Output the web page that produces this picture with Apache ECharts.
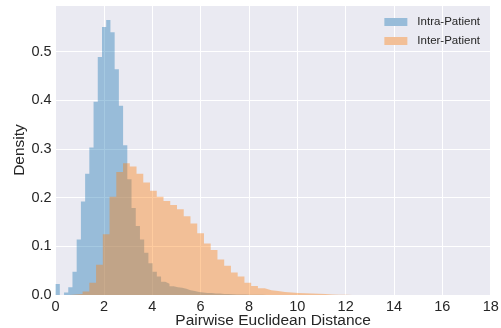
<!DOCTYPE html>
<html>
<head>
<meta charset="utf-8">
<script src="https://cdn.jsdelivr.net/npm/echarts@6/dist/echarts.min.js"></script>
<style>
  html, body { margin: 0; padding: 0; background: #fff; }
  #chart { width: 501px; height: 328px; }
</style>
</head>
<body>
<div id="chart"></div>
<script>
// histogram bins, both start at 0, 50 bins each
const intraStart = 0;
const intraBinWidth = 0.1745;
const intraDensity = [
  0.0226, 0, 0.005, 0.016, 0.048, 0.114, 0.192, 0.249, 0.303, 0.397,
  0.489, 0.551, 0.565, 0.540, 0.464, 0.389, 0.308, 0.238, 0.179, 0.142,
  0.114, 0.087, 0.065, 0.048, 0.038, 0.027, 0.023, 0.018, 0.016, 0.015,
  0.013, 0.010, 0.008, 0.006, 0.005, 0.004, 0.004, 0.003, 0.003, 0.002,
  0.002, 0.0015, 0.001, 0.001, 0.0008, 0.0006, 0.0005, 0.0004, 0.0003, 0.0002
];

const interStart = 0;
const interBinWidth = 0.279;
const interDensity = [
  0, 0, 0.0008, 0.002, 0.007, 0.025, 0.062, 0.125, 0.202, 0.253,
  0.271, 0.264, 0.249, 0.231, 0.214, 0.202, 0.193, 0.185, 0.176, 0.162,
  0.147, 0.127, 0.106, 0.0925, 0.073, 0.060, 0.046, 0.038, 0.025, 0.0185,
  0.014, 0.010, 0.008, 0.006, 0.005, 0.004, 0.0035, 0.003, 0.0025, 0.002,
  0.001, 0.0006, 0.0003, 0.0002, 0.0002, 0.0001, 0.0001, 0.0001, 0.0001, 0.0001
];

const seriesNames = ['Intra-Patient', 'Inter-Patient'];
const xTicks = [0, 2, 4, 6, 8, 10, 12, 14, 16, 18];
const yTicks = [0.0, 0.1, 0.2, 0.3, 0.4, 0.5];

// step outline for a histogram: two points per bin
function stepPoints(start, width, dens) {
  const pts = [];
  dens.forEach((h, i) => {
    pts.push([start + i * width, h]);
    pts.push([start + (i + 1) * width, h]);
  });
  return pts;
}

const FONT = 'Liberation Sans';
const TXT = '#262626';

const chart = echarts.init(document.getElementById('chart'), null, { renderer: 'canvas' });

chart.setOption({
  animation: false,
  backgroundColor: '#ffffff',
  textStyle: { fontFamily: FONT, color: TXT },
  grid: {
    left: 55.6, right: 10.3, top: 5, bottom: 33,
    containLabel: false,
    outerBoundsMode: 'none',
    show: true, backgroundColor: '#EAEAF2', borderWidth: 0
  },
  legend: {
    orient: 'vertical',
    right: 16,
    top: 11,
    icon: 'rect',
    itemWidth: 23,
    itemHeight: 8,
    itemGap: 7,
    textStyle: { fontFamily: FONT, fontSize: 11.5, color: TXT, padding: [0, 0, 0, 5] },
    data: [
      { name: seriesNames[0], itemStyle: { color: '#98BCD9' } },
      { name: seriesNames[1], itemStyle: { color: '#F2BF97' } }
    ]
  },
  xAxis: {
    type: 'value',
    min: xTicks[0],
    max: xTicks[xTicks.length - 1],
    interval: 2,
    name: 'Pairwise Euclidean Distance',
    nameLocation: 'middle',
    nameGap: 18,
    nameMoveOverlap: false,
    nameTextStyle: { fontFamily: FONT, fontSize: 15.5, color: TXT },
    axisLine: { show: false },
    axisTick: { show: false },
    axisLabel: { fontFamily: FONT, fontSize: 14.5, color: TXT, margin: 4 },
    splitLine: { show: true, lineStyle: { color: '#ffffff', width: 1 } }
  },
  yAxis: {
    type: 'value',
    min: 0,
    max: 0.596,
    interval: 0.1,
    name: 'Density',
    nameLocation: 'middle',
    nameGap: 28,
    nameMoveOverlap: false,
    nameTextStyle: { fontFamily: FONT, fontSize: 15.5, color: TXT },
    axisLine: { show: false },
    axisTick: { show: false },
    axisLabel: {
      fontFamily: FONT, fontSize: 14.5, color: TXT, margin: 4,
      formatter: v => {
        const hit = yTicks.find(t => Math.abs(t - v) < 1e-6);
        return hit === undefined ? '' : hit.toFixed(1);
      }
    },
    splitLine: { show: true, lineStyle: { color: '#ffffff', width: 1 } }
  },
  series: [
    {
      name: seriesNames[0],
      type: 'line',
      data: stepPoints(intraStart, intraBinWidth, intraDensity),
      symbol: 'none',
      lineStyle: { width: 0, opacity: 0 },
      itemStyle: { color: '#98BCD9' },
      areaStyle: { color: 'rgba(31,119,180,0.4)', opacity: 1 }
    },
    {
      name: seriesNames[1],
      type: 'line',
      data: stepPoints(interStart, interBinWidth, interDensity),
      symbol: 'none',
      lineStyle: { width: 0, opacity: 0 },
      itemStyle: { color: '#F2BF97' },
      areaStyle: { color: 'rgba(255,127,14,0.4)', opacity: 1 }
    }
  ]
});
</script>
</body>
</html>
